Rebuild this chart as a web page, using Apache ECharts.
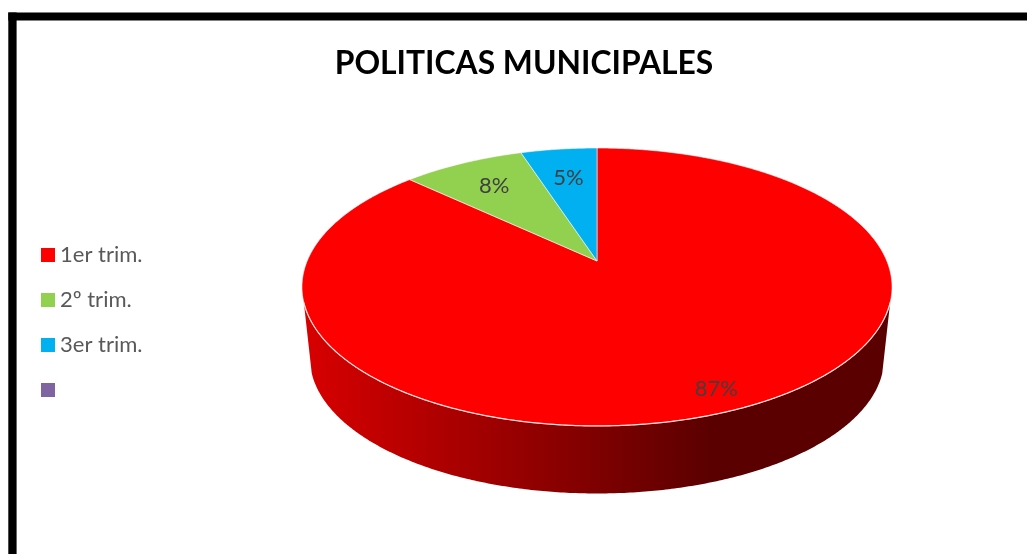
<!DOCTYPE html>
<html>
<head>
<meta charset="utf-8">
<style>html,body{margin:0;padding:0;background:#fff}#c{width:1027px;height:554px}</style>
<script src="https://cdn.jsdelivr.net/npm/echarts@6/dist/echarts.min.js"></script>
</head>
<body>
<div id="c"></div>
<script>
const chartTitle = 'POLITICAS MUNICIPALES';
const categories = ['1er trim.', '2º trim.', '3er trim.', ' '];
const values = [87, 8, 5, 0];
const colors = ['#ff0000', '#92d050', '#00b0f0', '#8064a2'];
const labelReach = [0.88, 0.74, 0.71, 0];

const total = values.reduce((a, b) => a + b, 0);
const starts = values.map((_, i) => values.slice(0, i).reduce((a, b) => a + b, 0));

// perspective projection of the pie disc
const persp = 0.187, A = 289.8, B = 134.1, CX = 597, CY = 261;
const LOW_SCALE = 0.973, LOW_CY = 333;
function proj(angle, r, scale, cy) {
  const u = Math.sin(angle) * r, v = Math.cos(angle) * r, w = 1 + persp * v;
  return [CX + scale * A * u / w, cy - scale * B * v / w];
}
function arc(a0, a1, scale, cy) {
  const n = Math.max(2, Math.ceil(Math.abs(a1 - a0) / (Math.PI / 360)));
  const pts = [];
  for (let i = 0; i <= n; i++) pts.push(proj(a0 + (a1 - a0) * i / n, 1, scale, cy));
  return pts;
}
const deg = Math.PI / 180;
const sideGradient = {
  type: 'linear', x: 0, y: 0, x2: 1, y2: 0,
  colorStops: [
    { offset: 0, color: '#d80000' },
    { offset: 0.5, color: '#7e0000' },
    { offset: 0.7, color: '#5a0000' },
    { offset: 1, color: '#5a0000' }
  ]
};
const edge = { stroke: 'rgba(255,255,255,0.6)', lineWidth: 0.9, lineJoin: 'round' };

function renderSlice(idx) {
  return function (params, api) {
    const val = api.value(0);
    if (!val) return { type: 'group', children: [] };
    const a0 = starts[idx] / total * 2 * Math.PI;
    const a1 = (starts[idx] + val) / total * 2 * Math.PI;
    const children = [];
    if (idx === 0) {
      const top = arc(107 * deg, 253 * deg, 1, CY);
      const low = arc(253 * deg, 107 * deg, LOW_SCALE, LOW_CY);
      children.push({
        type: 'polygon', shape: { points: top.concat(low) },
        style: { fill: sideGradient, stroke: null }
      });
    }
    children.push({
      type: 'polygon',
      shape: { points: [[CX, CY]].concat(arc(a0, a1, 1, CY)) },
      style: Object.assign({ fill: colors[idx] }, edge)
    });
    if (idx === 0) {
      children.push({
        type: 'polyline',
        shape: { points: arc(107 * deg, 253 * deg, 1, CY) },
        style: { fill: null, stroke: 'rgba(255,235,235,0.85)', lineWidth: 1.2 }
      });
    }
    const mid = (a0 + a1) / 2;
    const p = proj(mid, labelReach[idx], 1, CY);
    children.push({
      type: 'text', z2: 10,
      style: {
        x: p[0], y: p[1], text: Math.round(val / total * 100) + '%',
        fill: '#404040', font: '22px Lato', align: 'center', verticalAlign: 'middle'
      }
    });
    return { type: 'group', children };
  };
}

const chart = echarts.init(document.getElementById('c'), null, { renderer: 'canvas' });
chart.setOption({
  animation: false,
  backgroundColor: '#ffffff',
  title: {
    text: chartTitle, left: 519, top: 43, textAlign: 'center',
    textStyle: { fontFamily: 'Lato', fontWeight: 'bold', fontSize: 31.8, color: '#000000' }
  },
  legend: {
    orient: 'vertical', left: 41, top: 243,
    data: categories,
    icon: 'rect', itemWidth: 14, itemHeight: 14, itemGap: 21, padding: 0,
    textStyle: { fontFamily: 'Lato', fontSize: 22, color: '#595959', lineHeight: 24 }
  },
  graphic: [
    { type: 'rect', silent: true, shape: { x: 8.3, y: 12.4, width: 1019, height: 8.2 }, style: { fill: '#000' } },
    { type: 'rect', silent: true, shape: { x: 8.3, y: 12.4, width: 8.3, height: 542 }, style: { fill: '#000' } }
  ],
  series: categories.map((name, i) => ({
    type: 'custom',
    name,
    coordinateSystem: 'none',
    itemStyle: { color: colors[i] },
    renderItem: renderSlice(i),
    data: [[values[i]]],
    silent: true
  }))
});
</script>
</body>
</html>
